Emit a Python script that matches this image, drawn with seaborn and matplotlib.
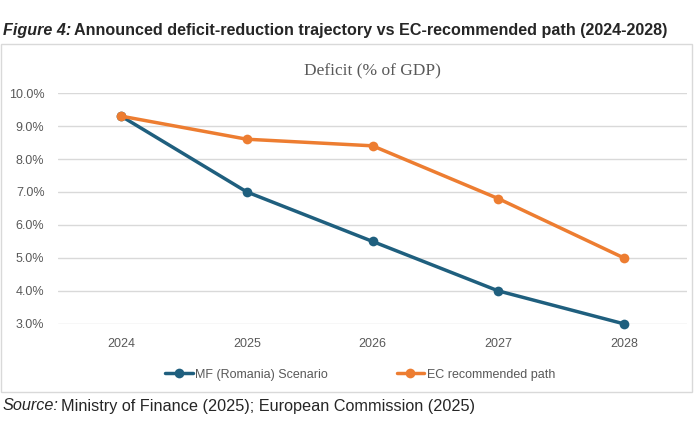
import pandas as pd
import seaborn as sns
import matplotlib.pyplot as plt
from matplotlib.patches import Rectangle

# data
years = ['2024', '2025', '2026', '2027', '2028']
mf_scenario = [9.3, 7.0, 5.5, 4.0, 3.0]
ec_path = [9.3, 8.6, 8.4, 6.8, 5.0]
series_names = ['MF (Romania) Scenario', 'EC recommended path']
y_ticks = [3, 4, 5, 6, 7, 8, 9, 10]

df = pd.concat([
    pd.DataFrame({'year': years, 'deficit': mf_scenario, 'series': series_names[0]}),
    pd.DataFrame({'year': years, 'deficit': ec_path, 'series': series_names[1]}),
])

sns.set_style('white')
plt.rcParams['font.family'] = ['Liberation Sans', 'DejaVu Sans']

fig = plt.figure(figsize=(6.95, 4.37), dpi=100)
ax = fig.add_axes([0.084, 0.259, 0.904, 0.528])

palette = {series_names[0]: '#1F5F7E', series_names[1]: '#ED7D31'}
sns.lineplot(data=df, x='year', y='deficit', hue='series', palette=palette,
             marker='o', markersize=7, markeredgewidth=0, linewidth=2.5,
             ax=ax, sort=False)
for ln in ax.lines:
    ln.set_clip_on(False)

ax.set_xlim(-0.5, len(years) - 0.5)
ax.set_ylim(3, 10)
ax.set_yticks(y_ticks)
ax.set_yticklabels([f'{v:.1f}%' for v in y_ticks])
ax.yaxis.grid(True, color='#D9D9D9', linewidth=1)
ax.set_axisbelow(True)
for s in ax.spines.values():
    s.set_visible(False)
ax.tick_params(axis='both', length=0, labelsize=9, colors='#595959', pad=10)
ax.tick_params(axis='x', pad=10)
ax.set_xlabel('')
ax.set_ylabel('')

ax.set_title('Deficit (% of GDP)', family=['Liberation Serif', 'DejaVu Serif'],
             fontsize=12.5, color='#595959', pad=13)

handles, labels = ax.get_legend_handles_labels()
ax.legend(handles, labels, loc='upper center', bbox_to_anchor=(0.48, -0.145),
          ncol=2, frameon=False, fontsize=9, labelcolor='#595959',
          handlelength=2.2, columnspacing=5.5, handletextpad=0.2)

# chart border
fig.patches.append(Rectangle((0.002, 1 - 392 / 437), 0.994, 348 / 437,
                             transform=fig.transFigure, fill=False,
                             edgecolor='#D9D9D9', linewidth=1))


def label_pair(y, first, rest, width_px, **kw):
    # italic lead-in followed by plain text, shrunk to fit the given width
    size = 13
    for _ in range(3):
        a = fig.text(0.004, y, first, fontsize=size, va='center',
                     fontstyle='italic', **kw)
        fig.canvas.draw()
        x1 = a.get_window_extent().x1
        b = fig.text(x1 / fig.bbox.width + 0.004, y, rest, fontsize=size,
                     va='center', **kw)
        fig.canvas.draw()
        w = b.get_window_extent().x1
        if abs(w - width_px) < 3:
            break
        a.remove()
        b.remove()
        size = size * width_px / w


label_pair(1 - 31 / 437, 'Figure 4:',
           'Announced deficit-reduction trajectory vs EC-recommended path (2024-2028)',
           668, fontweight='bold')
label_pair(1 - 406 / 437, 'Source:',
           'Ministry of Finance (2025); European Commission (2025)', 473)

fig.savefig('out.png', dpi=100)
